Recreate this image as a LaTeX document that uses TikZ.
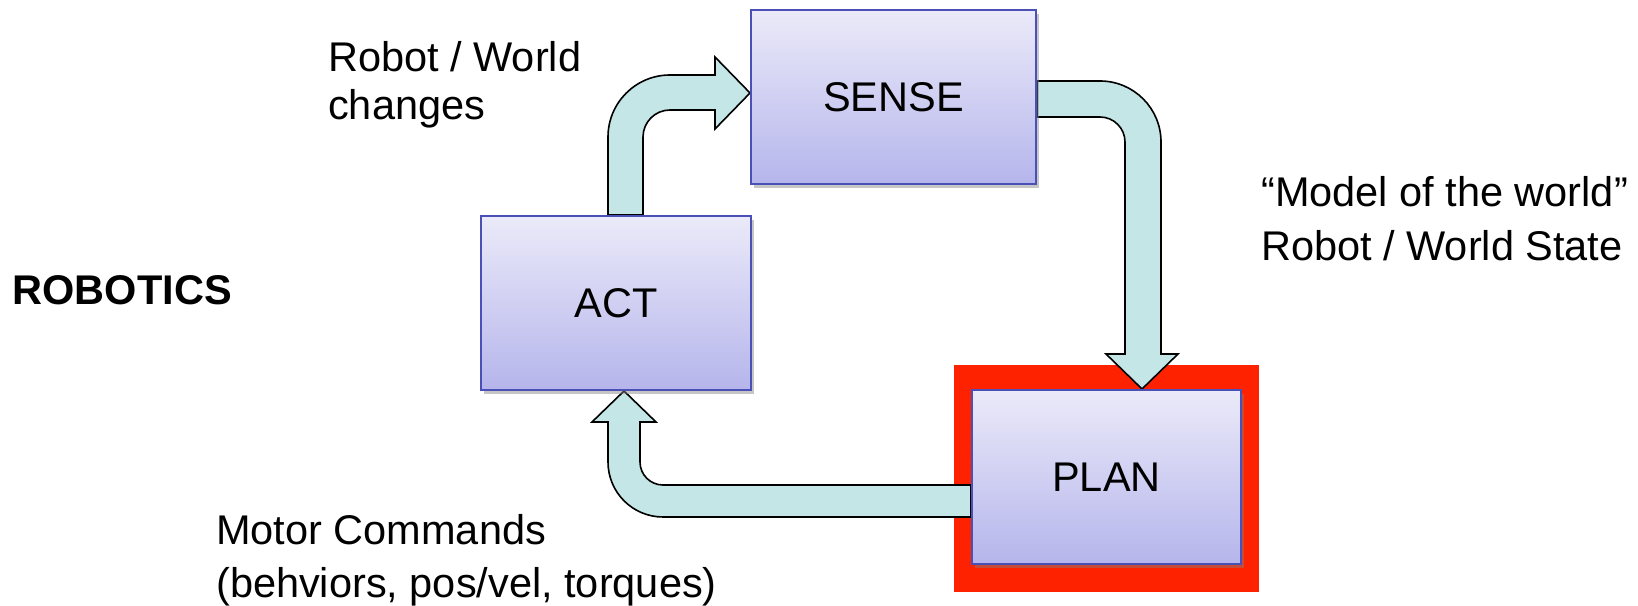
\documentclass[tikz,border=0pt]{standalone}
\usepackage{fontspec}
\setmainfont{Liberation Sans}
\usetikzlibrary{calc,shadows,backgrounds}

\definecolor{boxtop}{HTML}{EBEAF9}
\definecolor{boxbot}{HTML}{B5B5EC}
\definecolor{boxline}{HTML}{4A50B6}
\definecolor{arrowfill}{HTML}{C4E6E6}
\definecolor{redframe}{HTML}{FF2200}

\begin{document}
\begin{tikzpicture}[x=1pt,y=1pt,
    stage/.style={draw=boxline,line width=2pt,top color=boxtop,bottom color=boxbot,
      minimum height=174pt,inner sep=0pt,font=\fontsize{41.5}{48}\selectfont,
      drop shadow={shadow xshift=3pt,shadow yshift=-4pt,opacity=0.45}},
    fat/.style={draw=black,line width=1.6pt,fill=arrowfill,line join=miter},
    note/.style={align=left,inner sep=0pt,font=\fontsize{41.5}{48}\selectfont}]

  \useasboundingbox (0,0) rectangle (1638,605);

  \node[stage,minimum width=285pt] (sense) at (893.5,507.5) {SENSE};
  \node[stage,minimum width=270pt] (act) at (616,302) {ACT};
  \node[stage,minimum width=269pt] (plan) at (1106.5,128) {PLAN};

  \node[note,anchor=north west,font=\fontsize{41.5}{48}\selectfont\bfseries]
    (robotics) at (12.5,330) {ROBOTICS};
  \node[note,anchor=north west] (changes) at (328,564) {Robot / World\\changes};
  \node[note,anchor=north west,font=\fontsize{41.5}{54}\selectfont]
    (model) at (1261,429) {“Model of the world”\\Robot / World State};
  \node[note,anchor=north west,font=\fontsize{41.5}{53}\selectfont]
    (motor) at (216,91) {Motor Commands\\(behviors, pos/vel, torques)};

  \begin{scope}[on background layer]
    \fill[redframe] ($(plan.south west)+(-17,-27)$) rectangle ($(plan.north east)+(17,24)$);
    % act -> sense
    \draw[fat] ($(act.north)+(-8,0)$) -- (608,468) arc[start angle=180,end angle=90,radius=62]
      -- (715,530) -- (715,548) -- ($(sense.west)+(0,4.5)$) -- (715,476) -- (715,495)
      -- (670,495) arc[start angle=90,end angle=180,radius=27] -- ($(act.north)+(27,0)$) -- cycle;
    % sense -> plan
    \draw[fat] ($(sense.east)+(0,16.5)$) -- (1100,524) arc[start angle=90,end angle=0,radius=61]
      -- (1161,251) -- (1178,251) -- ($(plan.north)+(35.5,0)$) -- (1106,251) -- (1125,251)
      -- (1125,463) arc[start angle=0,end angle=90,radius=25] -- ($(sense.east)+(0,-19.5)$) -- cycle;
    % plan -> act
    \draw[fat] ($(plan.west)+(0,-8)$) -- (663,120) arc[start angle=270,end angle=180,radius=23]
      -- (640,183) -- (656,183) -- ($(act.south)+(8,0)$) -- (592,183) -- (608,183)
      -- (608,143) arc[start angle=180,end angle=270,radius=55] -- ($(plan.west)+(0,-40)$) -- cycle;
  \end{scope}

\end{tikzpicture}
\end{document}
